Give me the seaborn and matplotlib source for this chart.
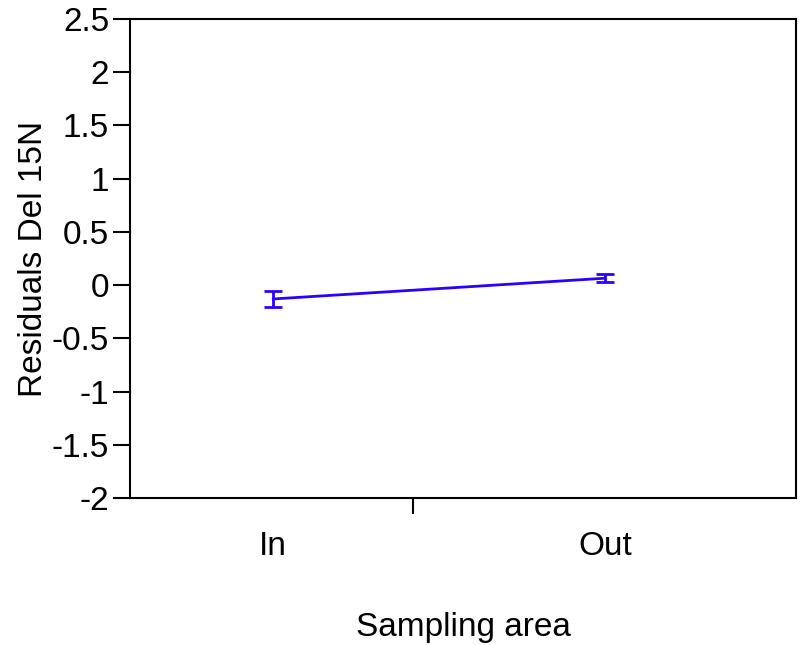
import pandas as pd
import seaborn as sns
import matplotlib.pyplot as plt
from matplotlib.ticker import FixedLocator, FixedFormatter

areas = ['In', 'Out']
means = [-0.13, 0.065]
errs = [0.075, 0.04]
y_ticks = [-2, -1.5, -1, -0.5, 0, 0.5, 1, 1.5, 2, 2.5]
y_labels = ['-2', '-1.5', '-1', '-0.5', '0', '0.5', '1', '1.5', '2', '2.5']

df = pd.DataFrame({'area': areas, 'resid': means})
line_color = '#2b00ff'

sns.set_style('ticks')
plt.rcParams['font.family'] = ['Liberation Sans', 'DejaVu Sans']
plt.rcParams['text.color'] = 'black'
plt.rcParams['axes.labelcolor'] = 'black'
plt.rcParams['xtick.color'] = 'black'
plt.rcParams['ytick.color'] = 'black'

fig = plt.figure(figsize=(8.01, 6.45), dpi=100)
ax = fig.add_axes([0.1623, 0.2279, 0.8315, 0.7426])

sns.pointplot(data=df, x='area', y='resid', color=line_color, markers='',
              errorbar=None, linewidth=2, ax=ax)
ax.errorbar(x=[0, 1], y=means, yerr=errs, fmt='none', ecolor=line_color,
            elinewidth=2, capsize=6.5, capthick=2)

ax.set_xlim(-0.431, 1.575)
ax.set_ylim(-2, 2.5)
ax.yaxis.set_major_locator(FixedLocator(y_ticks))
ax.yaxis.set_major_formatter(FixedFormatter(y_labels))

# category labels without marks, single divider tick
ax.xaxis.set_major_locator(FixedLocator([0.42]))
ax.xaxis.set_major_formatter(FixedFormatter(['']))
ax.xaxis.set_minor_locator(FixedLocator([0, 1]))
ax.xaxis.set_minor_formatter(FixedFormatter(areas))
ax.tick_params(axis='x', which='minor', length=0, pad=24, labelsize=24)
ax.tick_params(axis='x', which='major', length=11.5, width=1.5, direction='out')
ax.tick_params(axis='y', length=12, width=1.5, direction='out', labelsize=24, pad=3)

for s in ax.spines.values():
    s.set_linewidth(1.5)
    s.set_color('black')

ax.set_xlabel('Sampling area', fontsize=24, labelpad=36)
ax.set_ylabel('Residuals Del 15N', fontsize=24, labelpad=2)

fig.savefig('out.png', dpi=100)
